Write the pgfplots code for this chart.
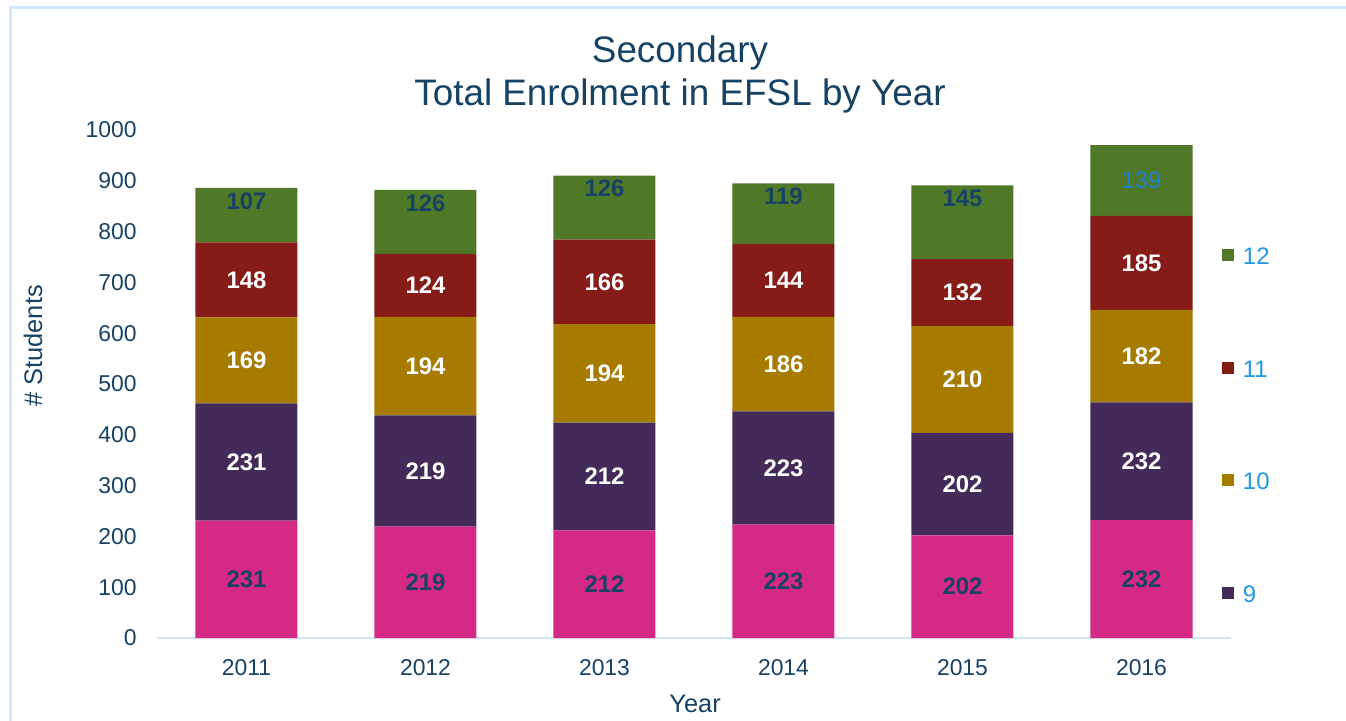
\documentclass[border=0pt]{standalone}
\usepackage{fontspec}
\setmainfont{Liberation Sans}
\usepackage{pgfplots}
\pgfplotsset{compat=1.18}

\definecolor{cpink}{RGB}{212,42,134}
\definecolor{cpurple}{RGB}{67,42,88}
\definecolor{cgold}{RGB}{166,123,0}
\definecolor{cred}{RGB}{134,28,24}
\definecolor{cgreen}{RGB}{79,120,40}
\definecolor{navy}{RGB}{22,66,100}
\definecolor{legblue}{RGB}{30,152,224}
\definecolor{lblblue}{RGB}{30,130,200}
\definecolor{axblue}{RGB}{204,230,248}
\definecolor{frameblue}{RGB}{210,232,250}

\pgfplotsset{
  sq/.style={legend image code/.code={\fill[##1] (0bp,-2.7bp) rectangle (6bp,3.3bp);}},
}
\tikzset{
  lbl/.style={anchor=center, font=\bfseries\fontsize{12}{12}\selectfont},
  % labels sit mid-segment already; this moves one to the segment's top edge
  topend/.style={shift={(axis direction cs:0,\rawy/2)}, yshift=-6.5bp},
}

\begin{document}
\begin{tikzpicture}
\useasboundingbox (-78.5bp,-41.5bp) rectangle (594.5bp,319bp);
\begin{axis}[
  scale only axis, width=537bp, height=254bp,
  ybar stacked, bar width=51bp,
  xmin=-0.5, xmax=5.5, ymin=0, ymax=1000,
  xtick={0,...,5}, xticklabels={2011,2012,2013,2014,2015,2016},
  ytick distance=100,
  major tick length=0pt,
  axis lines*=left,
  y axis line style={draw=none},
  x axis line style={draw=axblue, line width=1.25bp},
  tick label style={font=\fontsize{11.5}{11.5}\selectfont, text=navy},
  /pgf/number format/assume math mode=true,
  /pgf/number format/set thousands separator={},
  xticklabel style={yshift=-7.1bp},
  yticklabel style={xshift=-6.7bp},
  title={Secondary\\Total Enrolment in EFSL by Year},
  title style={font=\fontsize{18.5}{21.5}\selectfont, text=navy, align=center,
    at={(axis description cs:0.487,1)}, anchor=south, inner sep=0pt, yshift=2.2bp},
  xlabel={Year},
  xlabel style={font=\fontsize{12.75}{12.75}\selectfont, text=navy,
    at={(axis description cs:0.501,0)}, anchor=center, yshift=-33bp},
  ylabel={\# Students},
  ylabel style={font=\fontsize{12.75}{12.75}\selectfont, text=navy,
    at={(axis description cs:-0.1155,0.575)}, anchor=center, rotate=0},
  reverse legend,
  legend style={draw=none, fill=none, at={(axis description cs:0.9916,0.774)},
    anchor=north west, inner sep=0pt, outer sep=0pt, row sep=45.25bp,
    font=\fontsize{12}{12}\selectfont, text=legblue,
    nodes={inner sep=1bp, text height=9bp, text depth=0bp},
    /tikz/every odd column/.append style={column sep=3.5bp}},
  legend cell align=left,
  visualization depends on=rawy \as \rawy,
  visualization depends on=rawx \as \rawx,
  nodes near coords={\pgfmathprintnumber{\rawy}},
]
\addplot[fill=cpink, draw=none, forget plot,
  every node near coord/.append style={lbl, text=navy}]
  coordinates {(0,231) (1,219) (2,212) (3,223) (4,202) (5,232)};
\addplot[fill=cpurple, draw=none, sq,
  every node near coord/.append style={lbl, text=white}]
  coordinates {(0,231) (1,219) (2,212) (3,223) (4,202) (5,232)};
\addplot[fill=cgold, draw=none, sq,
  every node near coord/.append style={lbl, text=white}]
  coordinates {(0,169) (1,194) (2,194) (3,186) (4,210) (5,182)};
\addplot[fill=cred, draw=none, sq,
  every node near coord/.append style={lbl, text=white}]
  coordinates {(0,148) (1,124) (2,166) (3,144) (4,132) (5,185)};
\addplot[fill=cgreen, draw=none, sq,
  every node near coord/.append style={lbl, text=navy},
  every node near coord/.append code={\ifdim\rawx pt>4.5pt \pgfkeysalso{text=lblblue, font=\fontsize{12}{12}\selectfont}\else\pgfkeysalso{topend}\fi}]
  coordinates {(0,107) (1,126) (2,126) (3,119) (4,145) (5,139)};
\legend{9,10,11,12}
\end{axis}
\draw[frameblue, line width=1.5bp] (-73bp,-60bp) -- (-73bp,315bp) -- (640bp,315bp);
\end{tikzpicture}
\end{document}
